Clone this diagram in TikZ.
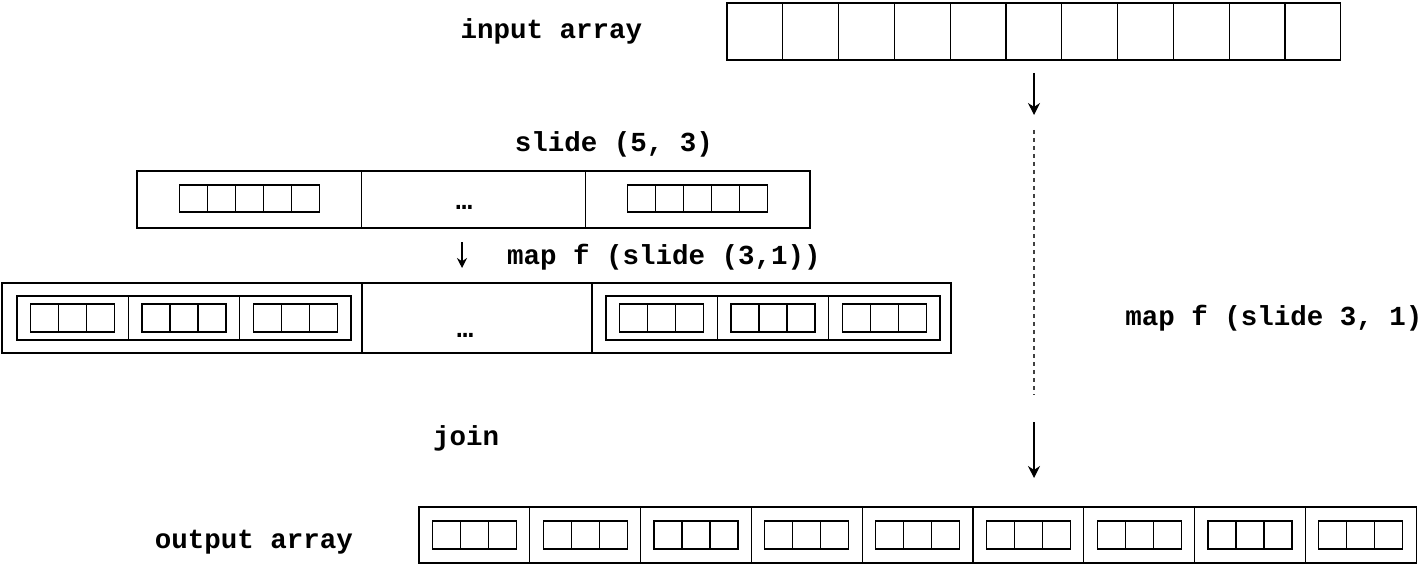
\documentclass[tikz,border=0pt]{standalone}
\usepackage{fontspec}
\setmonofont{Liberation Mono}
\usetikzlibrary{arrows.meta}

% a row of #3 cells, each #4 wide and #5 high, from (#1,#2)
\newcommand{\cellrow}[5]{%
  \foreach \k in {1,...,#3}
    \draw[box] ({#1+(\k-1)*#4},#2) rectangle ++(#4,#5);
}

\begin{document}
\begin{tikzpicture}
    [x=1pt, y=-1pt,
    box/.style={line width=1.2pt, black},
    lbl/.style={font=\ttfamily\bfseries\fontsize{27.5}{30}\selectfont, inner sep=0pt, anchor=base},
    flow/.style={line width=1.2pt, -{Stealth[length=12pt, width=12pt]}},
    gap/.style={dashed, line width=1.2pt, black!75, dash pattern=on 4pt off 4pt}]

    \useasboundingbox (0,0) rectangle (1423,564);

    % --- input array ---
    \cellrow{727}{3}{11}{55.8}{57}
    \node[lbl] (input) at (551.5,39) {input array};

    % --- slide (5, 3) ---
    \node[lbl] (slide) at (614,152) {slide (5, 3)};
    \cellrow{137}{171}{3}{224.33}{57}
    \foreach \s in {0,2} {\cellrow{137+\s*224.33+42.2}{185}{5}{28}{27}}
    \node[lbl] (dots1) at (464,209) {…};

    % --- map f (slide (3,1)) ---
    \node[lbl] (mapf) at (664,264) {map f (slide (3,1))};
    \draw[box] (2,283) rectangle (951,353);
    \draw[box] (362,283) -- (362,353);
    \draw[box] (592,283) -- (592,353);
    \foreach \b in {17,606} {
        \cellrow{\b}{296}{3}{111.33}{44}
        \foreach \s in {0,1,2} {\cellrow{\b+\s*111.33+13.67}{304}{3}{28}{28}}
    }
    \node[lbl] (dots2) at (465,337) {…};

    % --- join / output array ---
    \node[lbl] (join) at (466,445) {join};
    \node[lbl] (output) at (254,548) {output array};
    \cellrow{419}{507}{9}{110.8}{56}
    \foreach \s in {0,...,8} {\cellrow{419+\s*110.8+13.4}{521}{3}{28}{28}}

    % --- whole pipeline on the right ---
    \node[lbl] (whole) at (1274,325) {map f (slide 3, 1)};
    \coordinate (A1) at (1034,73);
    \coordinate (A2) at (1034,115);
    \coordinate (D1) at (1034,130);
    \coordinate (D2) at (1034,395);
    \coordinate (B1) at (1034,422);
    \coordinate (B2) at (1034,478);
    \coordinate (S1) at (462,242);
    \coordinate (S2) at (462,268);

    \draw[flow] (A1) -- (A2);
    \draw[gap] (D1) -- (D2);
    \draw[flow] (B1) -- (B2);
    \draw[flow, -{Stealth[length=10pt, width=10pt]}] (S1) -- (S2);
\end{tikzpicture}
\end{document}
